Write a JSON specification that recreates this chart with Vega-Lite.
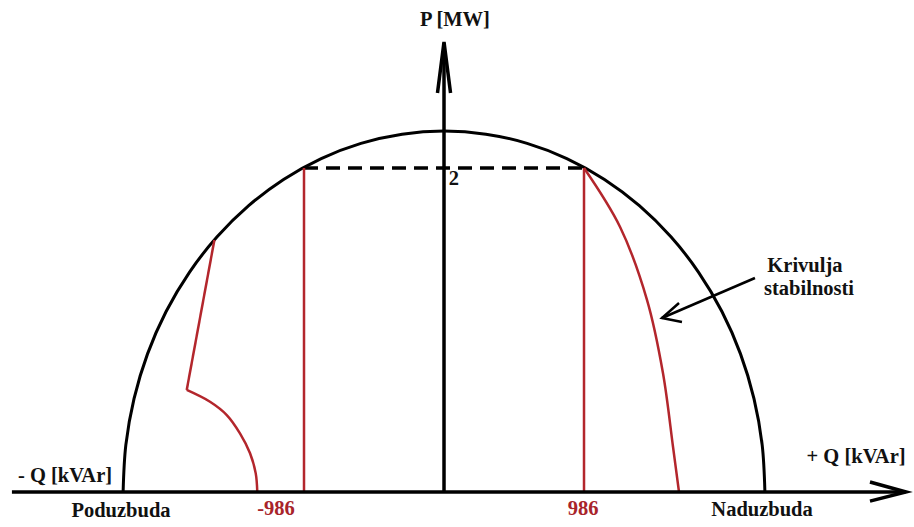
{
  "$schema": "https://vega.github.io/schema/vega-lite/v6.json",
  "width": 914,
  "height": 527,
  "autosize": {"type": "fit", "contains": "padding"},
  "padding": 0,
  "background": "white",
  "view": {"stroke": null},
  "datasets": {
    "circle": [
      {"o": 0, "q": -2260, "p": 0},
      {"o": 1, "q": -2240.7, "p": 0.2908},
      {"o": 2, "q": -2183.0, "p": 0.5767},
      {"o": 3, "q": -2088.0, "p": 0.8526},
      {"o": 4, "q": -1957.2, "p": 1.114},
      {"o": 5, "q": -1793.0, "p": 1.3563},
      {"o": 6, "q": -1598.1, "p": 1.5754},
      {"o": 7, "q": -1375.8, "p": 1.7676},
      {"o": 8, "q": -1130.0, "p": 1.9295},
      {"o": 9, "q": -864.9, "p": 2.0584},
      {"o": 10, "q": -584.9, "p": 2.1521},
      {"o": 11, "q": -295.0, "p": 2.2089},
      {"o": 12, "q": 0, "p": 2.228},
      {"o": 13, "q": 295.0, "p": 2.2089},
      {"o": 14, "q": 584.9, "p": 2.1521},
      {"o": 15, "q": 864.9, "p": 2.0584},
      {"o": 16, "q": 1130.0, "p": 1.9295},
      {"o": 17, "q": 1375.8, "p": 1.7676},
      {"o": 18, "q": 1598.1, "p": 1.5754},
      {"o": 19, "q": 1793.0, "p": 1.3563},
      {"o": 20, "q": 1957.2, "p": 1.114},
      {"o": 21, "q": 2088.0, "p": 0.8526},
      {"o": 22, "q": 2183.0, "p": 0.5767},
      {"o": 23, "q": 2240.7, "p": 0.2908},
      {"o": 24, "q": 2260, "p": 0}
    ],
    "dashed": [
      {"o": 0, "q": -986, "p": 2.0},
      {"o": 1, "q": 986, "p": 2.0}
    ],
    "red": [
      {"s": "left_vertical", "o": 0, "q": -986, "p": 0},
      {"s": "left_vertical", "o": 1, "q": -986, "p": 2.0},
      {"s": "right_vertical", "o": 0, "q": 986, "p": 0},
      {"s": "right_vertical", "o": 1, "q": 986, "p": 2.0},
      {"s": "stability", "o": 0, "q": 986, "p": 2.0},
      {"s": "stability", "o": 1, "q": 1240, "p": 1.636},
      {"s": "stability", "o": 2, "q": 1430, "p": 1.185},
      {"s": "stability", "o": 3, "q": 1542, "p": 0.735},
      {"s": "stability", "o": 4, "q": 1613, "p": 0.278},
      {"s": "stability", "o": 5, "q": 1655, "p": 0},
      {"s": "under_straight", "o": 0, "q": -1617, "p": 1.556},
      {"s": "under_straight", "o": 1, "q": -1812, "p": 0.63},
      {"s": "under_curve", "o": 0, "q": -1812, "p": 0.63},
      {"s": "under_curve", "o": 1, "q": -1648, "p": 0.557},
      {"s": "under_curve", "o": 2, "q": -1530, "p": 0.475},
      {"s": "under_curve", "o": 3, "q": -1437, "p": 0.362},
      {"s": "under_curve", "o": 4, "q": -1366, "p": 0.239},
      {"s": "under_curve", "o": 5, "q": -1326, "p": 0.115},
      {"s": "under_curve", "o": 6, "q": -1315, "p": 0}
    ],
    "axes": [
      {"s": "q_axis", "o": 0, "q": -3043, "p": 0},
      {"s": "q_axis", "o": 1, "q": 3250, "p": 0},
      {"s": "q_head", "o": 0, "q": 3000, "p": 0.062},
      {"s": "q_head", "o": 1, "q": 3254, "p": 0},
      {"s": "q_head", "o": 2, "q": 3000, "p": -0.056},
      {"s": "p_axis", "o": 0, "q": 0, "p": 0},
      {"s": "p_axis", "o": 1, "q": 0, "p": 2.77},
      {"s": "p_head", "o": 0, "q": -46, "p": 2.463},
      {"s": "p_head", "o": 1, "q": 0, "p": 2.778},
      {"s": "p_head", "o": 2, "q": 46, "p": 2.463}
    ],
    "pointer": [
      {"s": "shaft", "o": 0, "q": 2190, "p": 1.321},
      {"s": "shaft", "o": 1, "q": 1535, "p": 1.074},
      {"s": "head", "o": 0, "q": 1655, "p": 1.167},
      {"s": "head", "o": 1, "q": 1535, "p": 1.074},
      {"s": "head", "o": 2, "q": 1676, "p": 1.049}
    ],
    "labels": [
      {"t": "P [MW]", "q": 77, "p": 2.877},
      {"t": "2", "q": 70, "p": 1.895},
      {"t": "- Q [kVAr]", "q": -2669, "p": 0.062},
      {"t": "+ Q [kVAr]", "q": 2902, "p": 0.179},
      {"t": "Poduzbuda", "q": -2275, "p": -0.154},
      {"t": "Naduzbuda", "q": 2240, "p": -0.148},
      {"t": "Krivulja", "q": 2542, "p": 1.36},
      {"t": "stabilnosti", "q": 2571, "p": 1.216}
    ],
    "redlabels": [
      {"t": "-986", "q": -1183, "p": -0.142},
      {"t": "986", "q": 979, "p": -0.142}
    ]
  },
  "encoding": {
    "x": {"field": "q", "type": "quantitative", "scale": {"domain": [-3127, 3310], "nice": false, "zero": false}, "axis": null},
    "y": {"field": "p", "type": "quantitative", "scale": {"domain": [-0.216, 3.037], "nice": false, "zero": false}, "axis": null}
  },
  "layer": [
    {
      "data": {"name": "circle"},
      "mark": {"type": "line", "color": "black", "strokeWidth": 3, "interpolate": "catmull-rom"},
      "encoding": {"order": {"field": "o", "type": "quantitative"}}
    },
    {
      "data": {"name": "dashed"},
      "mark": {"type": "line", "color": "black", "strokeWidth": 3.5, "strokeDash": [14, 8]},
      "encoding": {"order": {"field": "o", "type": "quantitative"}}
    },
    {
      "data": {"name": "red"},
      "mark": {"type": "line", "color": "#b3262c", "strokeWidth": 2.5, "interpolate": "catmull-rom"},
      "encoding": {"detail": {"field": "s"}, "order": {"field": "o", "type": "quantitative"}}
    },
    {
      "data": {"name": "axes"},
      "mark": {"type": "line", "color": "black", "strokeWidth": 3.5, "strokeJoin": "miter"},
      "encoding": {"detail": {"field": "s"}, "order": {"field": "o", "type": "quantitative"}}
    },
    {
      "data": {"name": "pointer"},
      "mark": {"type": "line", "color": "black", "strokeWidth": 2.5},
      "encoding": {"detail": {"field": "s"}, "order": {"field": "o", "type": "quantitative"}}
    },
    {
      "data": {"name": "labels"},
      "mark": {"type": "text", "font": "Liberation Serif", "fontWeight": "bold", "fontSize": 20.5, "color": "#111111", "align": "center", "baseline": "alphabetic"},
      "encoding": {"text": {"field": "t"}}
    },
    {
      "data": {"name": "redlabels"},
      "mark": {"type": "text", "font": "Liberation Serif", "fontWeight": "bold", "fontSize": 20.5, "color": "#a8242a", "align": "center", "baseline": "alphabetic"},
      "encoding": {"text": {"field": "t"}}
    }
  ]
}
